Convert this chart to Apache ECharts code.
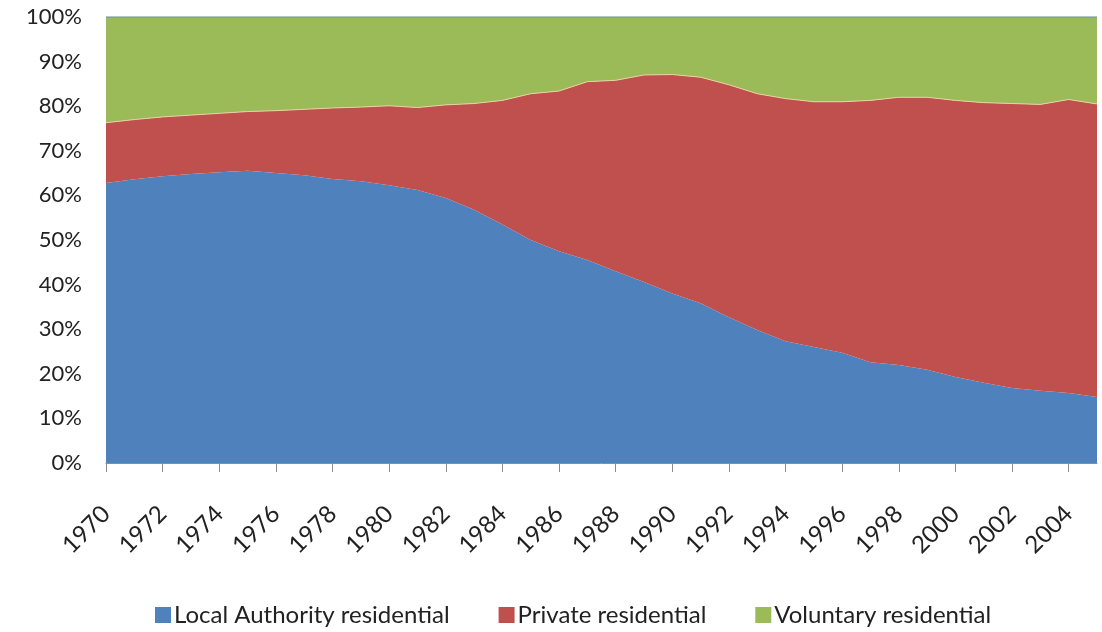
<!DOCTYPE html>
<html>
<head>
<meta charset="utf-8">
<style>
  html, body { margin: 0; padding: 0; background: #ffffff; }
  #chart { width: 1102px; height: 632px; }
</style>
<script src="https://cdn.jsdelivr.net/npm/echarts@6/dist/echarts.min.js"></script>
</head>
<body>
<div id="chart"></div>
<script>
const years = ['1970','1971','1972','1973','1974','1975','1976','1977','1978','1979',
  '1980','1981','1982','1983','1984','1985','1986','1987','1988','1989',
  '1990','1991','1992','1993','1994','1995','1996','1997','1998','1999',
  '2000','2001','2002','2003','2004','2005'];

const localAuthority = [62.8, 63.6, 64.3, 64.8, 65.2, 65.5, 65.0, 64.5, 63.7, 63.2,
  62.3, 61.2, 59.4, 56.8, 53.5, 50.0, 47.5, 45.5, 43.0, 40.6,
  38.0, 35.8, 32.7, 29.8, 27.3, 26.0, 24.7, 22.6, 22.0, 20.9,
  19.3, 18.0, 16.8, 16.2, 15.7, 14.8];

const privateRes = [13.5, 13.4, 13.3, 13.2, 13.2, 13.3, 14.0, 14.8, 15.9, 16.6,
  17.8, 18.5, 20.9, 23.8, 27.8, 32.8, 35.9, 40.0, 42.8, 46.4,
  49.1, 50.7, 52.1, 53.0, 54.4, 55.0, 56.3, 58.7, 60.0, 61.1,
  62.0, 62.8, 63.8, 64.2, 65.8, 65.7];

const voluntary = [23.7, 23.0, 22.4, 22.0, 21.6, 21.2, 21.0, 20.7, 20.4, 20.2,
  19.9, 20.3, 19.7, 19.4, 18.7, 17.2, 16.6, 14.5, 14.2, 13.0,
  12.9, 13.5, 15.2, 17.2, 18.3, 19.0, 19.0, 18.7, 18.0, 18.0,
  18.7, 19.2, 19.4, 19.6, 18.5, 19.5];

const yTicks = [0, 10, 20, 30, 40, 50, 60, 70, 80, 90, 100];

const FONT = 'Lato, "Liberation Sans", sans-serif';
const chart = echarts.init(document.getElementById('chart'), null, { renderer: 'canvas' });

chart.setOption({
  animation: false,
  backgroundColor: '#ffffff',
  grid: { left: 106, right: 5, top: 17, bottom: 169, containLabel: false },
  legend: {
    left: 155,
    top: 603,
    padding: 0,
    itemGap: 49,
    itemWidth: 16,
    itemHeight: 16,
    icon: 'rect',
    textStyle: { fontFamily: FONT, fontSize: 24, color: '#222222', padding: [0, 0, 0, -2] },
    data: ['Local Authority residential', 'Private residential', 'Voluntary residential']
  },
  xAxis: {
    type: 'category',
    data: years,
    boundaryGap: false,
    axisLine: { show: true, lineStyle: { color: '#8c8c8c', width: 1 } },
    axisTick: { show: true, interval: 1, length: 9, lineStyle: { color: '#8c8c8c' } },
    axisLabel: {
      interval: 1,
      rotate: 45,
      margin: 47,
      fontFamily: FONT,
      fontSize: 24,
      color: '#222222'
    },
    splitLine: { show: false }
  },
  yAxis: {
    type: 'value',
    min: yTicks[0],
    max: yTicks[yTicks.length - 1],
    interval: 10,
    axisLine: { show: false },
    axisTick: { show: false },
    splitLine: { show: false },
    axisLabel: {
      margin: 24,
      fontFamily: FONT,
      fontSize: 22,
      color: '#222222',
      formatter: function (v) { return v + '%'; }
    }
  },
  series: [
    {
      name: 'Local Authority residential',
      type: 'line',
      stack: 'total',
      data: localAuthority,
      symbol: 'none',
      smooth: false,
      itemStyle: { color: '#4F81BD' },
      lineStyle: { width: 0, color: '#4F81BD' },
      areaStyle: { color: '#4F81BD', opacity: 1 }
    },
    {
      name: 'Private residential',
      type: 'line',
      stack: 'total',
      data: privateRes,
      symbol: 'none',
      smooth: false,
      itemStyle: { color: '#C0504D' },
      lineStyle: { width: 1, color: '#EBCFA3' },
      areaStyle: { color: '#C0504D', opacity: 1 }
    },
    {
      name: 'Voluntary residential',
      type: 'line',
      stack: 'total',
      data: voluntary,
      symbol: 'none',
      smooth: false,
      itemStyle: { color: '#9BBB59' },
      lineStyle: { width: 1.5, color: '#7B98A6' },
      areaStyle: { color: '#9BBB59', opacity: 1 }
    }
  ]
});
</script>
</body>
</html>
